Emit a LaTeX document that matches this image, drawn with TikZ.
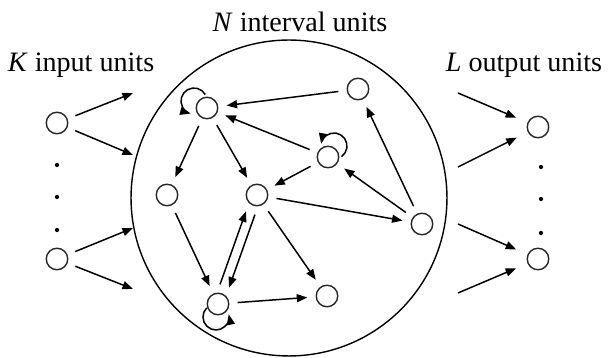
\documentclass[tikz,border=0pt]{standalone}
\usepackage{fontspec}
\setmainfont{Liberation Serif}
\usetikzlibrary{arrows.meta}
\begin{document}
\begin{tikzpicture}[x=0.02cm,y=0.02cm,
  unit/.style={circle,draw=black!85,line width=0.8pt,minimum size=0.43cm,inner sep=0pt,outer sep=0.18cm},
  arr/.style={line width=0.85pt,-{Triangle[length=0.21cm,width=0.16cm]}},
  dotn/.style={circle,fill=black,inner sep=0pt,minimum size=0.085cm},
  lbl/.style={font=\fontsize{16}{19}\selectfont,anchor=base,inner sep=0pt}]
\useasboundingbox (0,0) rectangle (610,358);
% big circle
\node[circle,draw,line width=0.8pt,minimum size=6.32cm,inner sep=0pt] (net) at (289,160) {};
% labels
\node[lbl] (lk) at (81,286) {\textit{K} input units};
\node[lbl] (ln) at (300,326) {\textit{N} interval units};
\node[lbl] (ll) at (524,286) {\textit{L} output units};
% input units
\node[unit] (in1) at (57,235) {};
\node[unit] (in2) at (57,99) {};
\node[dotn] (id1) at (57,193) {};
\node[dotn] (id2) at (57,161) {};
\node[dotn] (id3) at (57,128) {};
% output units
\node[unit] (out1) at (538,231) {};
\node[unit] (out2) at (538,99) {};
\node[dotn] (od1) at (541,191) {};
\node[dotn] (od2) at (541,159) {};
\node[dotn] (od3) at (541,125) {};
% interval units
\node[unit] (A) at (207,250) {};
\node[unit] (B) at (358,269) {};
\node[unit] (C) at (328,201) {};
\node[unit] (D) at (167,163) {};
\node[unit] (E) at (257,163) {};
\node[unit] (F) at (422,134) {};
\node[unit] (G) at (218,54) {};
\node[unit] (H) at (327,62) {};
% free ends
\coordinate (ia1) at (133,265);
\coordinate (ia2) at (133,203);
\coordinate (ia3) at (133,130);
\coordinate (ia4) at (133,69);
\coordinate (oa1) at (458,265);
\coordinate (oa2) at (458,191);
\coordinate (oa3) at (458,134);
\coordinate (oa4) at (458,65);
% input arrows
\draw[arr] (in1) -- (ia1);
\draw[arr] (in1) -- (ia2);
\draw[arr] (in2) -- (ia3);
\draw[arr] (in2) -- (ia4);
% output arrows
\draw[arr,shorten >=0.08cm] (oa1) -- (out1);
\draw[arr,shorten >=0.08cm] (oa2) -- (out1);
\draw[arr,shorten >=0.08cm] (oa3) -- (out2);
\draw[arr,shorten >=0.08cm] (oa4) -- (out2);
% internal edges
\draw[arr] (B) -- (A);
\draw[arr] (C) -- (A);
\draw[arr] (A) -- (D);
\draw[arr] (A) -- (E);
\draw[arr] (C) -- (E);
\draw[arr] (F) -- (C);
\draw[arr] (F) -- (B);
\draw[arr] (E) -- (F);
\draw[arr] (D) -- (G);
\draw[arr] (G.84) -- (E.236);
\draw[arr] (E.264) -- (G.56);
\draw[arr] (E) -- (H);
\draw[arr] (G) -- (H);
% self loops
\draw[arr] ([shift={(30:13)}]194,257) arc[start angle=30,end angle=255,radius=0.26cm];
\draw[arr] ([shift={(-55:13)}]334,212) arc[start angle=-55,end angle=170,radius=0.26cm];
\draw[arr] ([shift={(135:13)}]216,41) arc[start angle=135,end angle=372,radius=0.26cm];
\end{tikzpicture}
\end{document}
